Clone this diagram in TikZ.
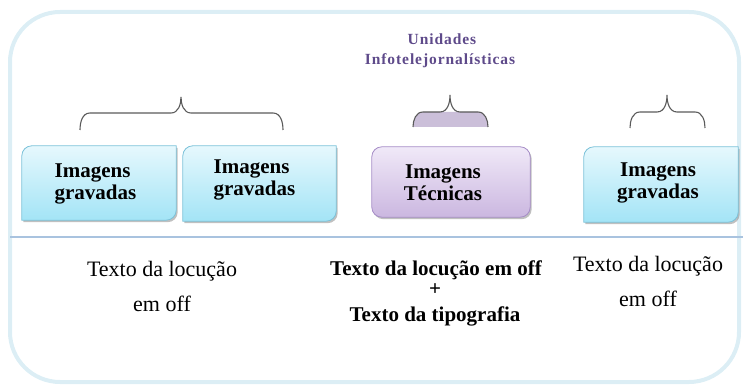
\documentclass[tikz,border=0pt]{standalone}
\usepackage{fontspec}
\setmainfont{Liberation Serif}
\newfontfamily\titlefont[LetterSpace=6]{Liberation Serif}
\usetikzlibrary{backgrounds}
\definecolor{framec}{HTML}{DCEEF5}
\definecolor{linec}{HTML}{A9C3DF}
\definecolor{cyantop}{HTML}{E6F8FD}
\definecolor{cyanbot}{HTML}{A3E4F6}
\definecolor{cyanedge}{HTML}{7CC2D9}
\definecolor{purtop}{HTML}{F0E9F8}
\definecolor{purbot}{HTML}{CBB7E0}
\definecolor{puredge}{HTML}{A68DC7}
\definecolor{bracefill}{HTML}{CBBFD9}
\definecolor{bracec}{HTML}{5A5A5A}
\definecolor{titlec}{HTML}{5E4A8A}
\newcommand\mydiagshape[2]{([yshift=-#2]#1.north west) arc[start angle=180,end angle=90,radius=#2] -- (#1.north east) -- ([yshift=#2]#1.south east) arc[start angle=0,end angle=-90,radius=#2] -- (#1.south west) -- cycle}
\tikzset{
  boxshape/.style={rectangle, inner sep=0pt, draw=none},
  boxtxt/.style={font=\fontsize{21}{22}\selectfont\bfseries, inner sep=0pt},
  lowtxt/.style={font=\fontsize{22}{24}\selectfont, anchor=base, inner sep=0pt},
  lowbold/.style={font=\fontsize{21}{24}\selectfont\bfseries, anchor=base, inner sep=0pt},
  titletxt/.style={font=\fontsize{15.5}{18}\selectfont\titlefont\bfseries, text=titlec, anchor=base, inner sep=0pt},
  cyanbox/.style={top color=cyantop, bottom color=cyanbot, draw=cyanedge, line width=0.8pt},
  purbox/.style={top color=purtop, bottom color=purbot, draw=puredge, line width=0.8pt},
  shadowfill/.style={fill=black!45, opacity=0.55},
  bracestroke/.style={draw=bracec, line width=1.1pt},
}
\begin{document}
\begin{tikzpicture}[x=1pt,y=1pt]
\useasboundingbox (0,0) rectangle (743,385);
% outer frame
\draw[framec, line width=4pt, rounded corners=50pt] (10,3) rectangle (739,373);
% separator line
\coordinate (sepL) at (10,148);
\coordinate (sepR) at (743,148);
\draw[linec, line width=1.6pt] (sepL) -- (sepR);

% box nodes
\node[boxshape, minimum width=154pt, minimum height=74pt] (b1) at (99,202) {};
\node[boxshape, minimum width=153pt, minimum height=75pt] (b2) at (259.5,201.5) {};
\node[boxshape, minimum width=158pt, minimum height=70pt] (b3) at (451,203) {};
\node[boxshape, minimum width=154pt, minimum height=75pt] (b4) at (661,200.5) {};

% shadows
\fill[shadowfill, transform canvas={shift={(1.5pt,-2pt)}}] \mydiagshape{b1}{10pt};
\fill[shadowfill, transform canvas={shift={(1.5pt,-2pt)}}] \mydiagshape{b2}{10pt};
\fill[shadowfill, transform canvas={shift={(1.5pt,-2pt)}}, rounded corners=10pt] (b3.south west) rectangle (b3.north east);
\fill[shadowfill, transform canvas={shift={(1.5pt,-2pt)}}] \mydiagshape{b4}{10pt};
% boxes
\path[cyanbox] \mydiagshape{b1}{10pt};
\path[cyanbox] \mydiagshape{b2}{10pt};
\path[purbox, rounded corners=10pt] (b3.south west) rectangle (b3.north east);
\path[cyanbox] \mydiagshape{b4}{10pt};

% box texts
\node[boxtxt, align=left] (l1) at (95.5,201) {Imagens\\gravadas};
\node[boxtxt, align=left] (l2) at (254.5,205) {Imagens\\gravadas};
\node[boxtxt, align=center] (l3) at (443,202) {Imagens\\Técnicas};
\node[boxtxt, align=center] (l4) at (658,202.5) {Imagens\\gravadas};

% braces
\draw[bracestroke] (80,255) to[out=90,in=180] (90,272) -- (171,272) to[out=0,in=-90] (181,288) to[out=-90,in=180] (191,272) -- (273,272) to[out=0,in=90] (283,255);
\fill[bracefill] (413,258) to[out=90,in=180] (423,273) -- (478,273) to[out=0,in=90] (488,258) -- cycle;
\draw[bracestroke] (413,258) to[out=90,in=180] (423,273) -- (440,273) to[out=0,in=-90] (450,290) to[out=-90,in=180] (460,273) -- (478,273) to[out=0,in=90] (488,258);
\draw[bracestroke] (630,257) to[out=90,in=180] (640,273) -- (657,273) to[out=0,in=-90] (667,290) to[out=-90,in=180] (677,273) -- (695,273) to[out=0,in=90] (705,257);

% title
\node[titletxt] (ti1) at (442,340) {Unidades};
\node[titletxt] (ti2) at (440,320) {Infotelejornalísticas};

% lower texts
\node[lowtxt] (x1a) at (162,108) {Texto da locução};
\node[lowtxt] (x1b) at (162,73) {em off};
\node[lowbold] (x2a) at (436,109) {Texto da locução em off};
\node[lowbold] (x2b) at (435,89) {+};
\node[lowbold] (x2c) at (435,63) {Texto da tipografia};
\node[lowtxt] (x3a) at (648,113) {Texto da locução};
\node[lowtxt] (x3b) at (648,78) {em off};
\end{tikzpicture}
\end{document}
